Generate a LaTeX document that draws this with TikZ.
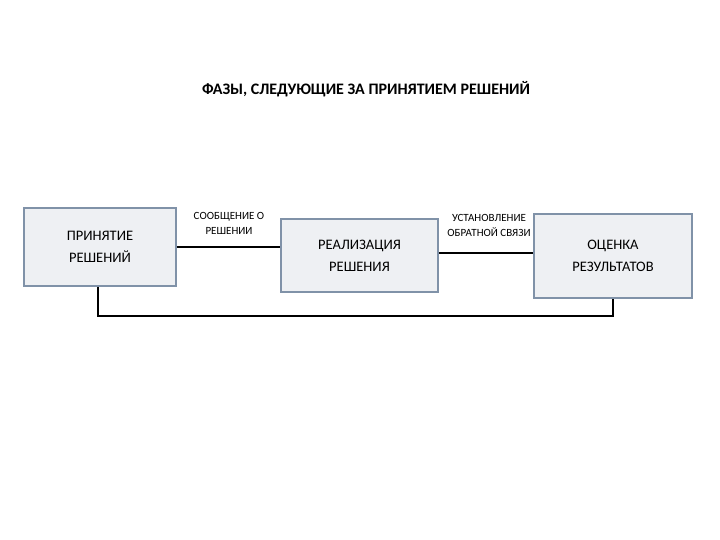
\documentclass[tikz,border=0pt]{standalone}
\usepackage{fontspec}
\setmainfont{Carlito}
\usetikzlibrary{positioning}
\definecolor{boxfill}{RGB}{238, 240, 243}
\definecolor{boxline}{RGB}{128, 146, 168}

\begin{document}
\begin{tikzpicture}[
    x=1pt, y=-1pt,
    phase/.style={rectangle, fill=boxfill, draw=boxline, line width=1.6pt, align=center, font=\fontsize{14.5}{22}\selectfont},
    link/.style={line width=1.6pt, black},
    note/.style={font=\fontsize{11}{15}\selectfont, align=center, inner sep=1pt}
]
    \useasboundingbox (0,0) rectangle (720,540);
    % Title
    \node[font=\bfseries\fontsize{16}{18}\selectfont] (title) at (366, 89) {ФАЗЫ, СЛЕДУЮЩИЕ ЗА ПРИНЯТИЕМ РЕШЕНИЙ};

    % Phases
    \node[phase, minimum width=152, minimum height=78] (p1) at (100, 247) {ПРИНЯТИЕ\\РЕШЕНИЙ};
    \node[phase, minimum width=157, minimum height=73] (p2) at (359.5, 255.5) {РЕАЛИЗАЦИЯ\\РЕШЕНИЯ};
    \node[phase, minimum width=158, minimum height=84] (p3) at (613, 256) {ОЦЕНКА\\РЕЗУЛЬТАТОВ};

    % Links
    \draw[link] (p1.east |- 0,247) -- (p2.west |- 0,247);
    \draw[link] (p2.east |- 0,253) -- (p3.west |- 0,253);
    \coordinate (c1) at (98, 316);
    \coordinate (c2) at (613, 316);
    \draw[link] (p1.south -| c1) -- (c1) -- (c2) -- (p3.south -| c2);

    % Labels
    \node[note] (n1) at (229, 223) {СООБЩЕНИЕ О\\РЕШЕНИИ};
    \node[note] (n2) at (489, 225) {УСТАНОВЛЕНИЕ\\ОБРАТНОЙ СВЯЗИ};
\end{tikzpicture}
\end{document}
